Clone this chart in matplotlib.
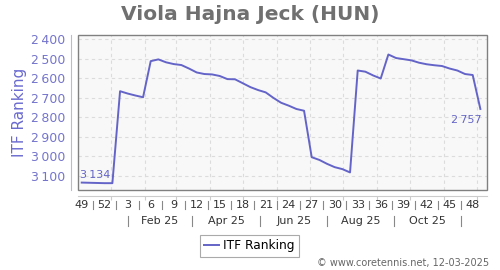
import matplotlib
matplotlib.use("Agg")
import matplotlib.pyplot as plt
import matplotlib.dates as mdates
import matplotlib.transforms as mtransforms
from matplotlib.patches import Rectangle
from matplotlib.ticker import FixedLocator, FuncFormatter, NullFormatter
import pandas as pd

# ---- data ----
start_week_date = "2024-12-05"   # Thursday of ISO week 49, 2024
ranking = [3134, 3135, 3136, 3137, 3137, 2666, 2678, 2688, 2697, 2512,
           2503, 2518, 2527, 2532, 2550, 2570, 2578, 2580, 2588, 2604,
           2605, 2625, 2645, 2660, 2672, 2700, 2725, 2740, 2757, 2766,
           3004, 3018, 3038, 3055, 3065, 3082, 2560, 2566, 2585, 2601,
           2478, 2496, 2502, 2508, 2520, 2528, 2533, 2537, 2550, 2560,
           2578, 2583, 2757]
week_labels = ["49", "52", "3", "6", "9", "12", "15", "18", "21", "24",
               "27", "30", "33", "36", "39", "42", "45", "48"]
month_labels = ["Feb 25", "Apr 25", "Jun 25", "Aug 25", "Oct 25"]
y_ticks = [2400, 2500, 2600, 2700, 2800, 2900, 3000, 3100]
title = "Viola Hajna Jeck (HUN)"
series_name = "ITF Ranking"
footer = "\u00a9 www.coretennis.net, 12-03-2025"

dates = pd.date_range(start_week_date, periods=len(ranking), freq="7D")

LINE = "#6464c8"
TICKBLUE = "#7474cc"

fig = plt.figure(figsize=(5, 2.7), dpi=100)
ax = fig.add_axes([0.156, 0.2963, 0.817, 0.5727])
ax.set_facecolor("#f8f8f8")

line, = ax.plot(dates, ranking, color=LINE, lw=1.4, zorder=3)

x0 = pd.Timestamp("2024-12-05")
ax.set_xlim(x0 - pd.Timedelta(days=3.4), x0 + pd.Timedelta(days=369.6))
ax.set_ylim(3172, 2380)

fmt = lambda v: f"{int(v):,}".replace(",", "\u2009")

# y axis
ax.yaxis.set_major_locator(FixedLocator(y_ticks))
ax.yaxis.set_major_formatter(FuncFormatter(lambda v, p: fmt(v)))
ax.tick_params(axis="y", length=0, pad=4, labelsize=9, labelcolor=TICKBLUE)
ax.set_ylabel(series_name, color="#6a6ad0", fontsize=11, labelpad=3)

# x axis: month-start gridlines + small ticks
month_starts = pd.date_range("2025-01-01", "2025-12-01", freq="MS")
ax.xaxis.set_major_locator(FixedLocator(mdates.date2num(month_starts)))
ax.xaxis.set_major_formatter(NullFormatter())
ax.tick_params(axis="x", which="major", length=3, color="#cccccc", width=0.8)

ax.grid(True, which="major", axis="both", linestyle=(0, (3, 3)), color="#dcdcdc", lw=0.8)

for s in ["top", "right"]:
    ax.spines[s].set_visible(False)
ax.spines["left"].set_position(("outward", 5))
ax.spines["left"].set_color("#b8b8e6")
ax.spines["bottom"].set_position(("outward", 4))
ax.spines["bottom"].set_color("#cccccc")

ax.add_patch(Rectangle((0, 0), 1, 1, transform=ax.transAxes, fill=False,
                       edgecolor="#808080", lw=1.0, clip_on=False, zorder=4))

# week labels and separators
trans = mtransforms.blended_transform_factory(ax.transData, ax.transAxes)
week_dates = dates[::3][:len(week_labels)]
wd = mdates.date2num(week_dates)
for xw, lab in zip(wd, week_labels):
    ax.text(xw, -0.097, lab, transform=trans, ha="center", va="center",
            fontsize=8, color="#333333")
for i in range(len(wd) - 1):
    xm = (wd[i] + wd[i + 1]) / 2
    ax.plot([xm, xm], [-0.07, -0.125], transform=trans, color="#888888", lw=0.8, clip_on=False)

# month labels and separators
month_sep = pd.to_datetime(["2025-01-16", "2025-03-16", "2025-05-17",
                            "2025-07-17", "2025-09-16", "2025-11-16"])
ms = mdates.date2num(month_sep)
for xm in ms:
    ax.plot([xm, xm], [-0.168, -0.233], transform=trans, color="#888888", lw=0.8, clip_on=False)
for i, lab in enumerate(month_labels):
    ax.text((ms[i] + ms[i + 1]) / 2, -0.2, lab, transform=trans, ha="center", va="center",
            fontsize=8, color="#333333")

# end annotations
ax.annotate(fmt(ranking[0]), (mdates.date2num(dates[0]), ranking[0]),
            xytext=(-1, 2), textcoords="offset points", ha="left", va="bottom",
            fontsize=8, color=LINE)
ax.annotate(fmt(ranking[-1]), (mdates.date2num(dates[-1]), ranking[-1]),
            xytext=(1, -4), textcoords="offset points", ha="right", va="top",
            fontsize=8, color=LINE)

fig.text(0.5, 0.948, title, ha="center", va="center", fontsize=14.5,
         fontweight="bold", color="#707070")

leg = fig.legend([line], [series_name], loc="center", bbox_to_anchor=(0.499, 0.089),
                 fontsize=8.7, fancybox=False, edgecolor="#aaaaaa", handlelength=1.2,
                 borderpad=0.35, handletextpad=0.4, framealpha=1)
leg.get_frame().set_linewidth(0.8)

fig.text(0.978, 0.025, footer, ha="right", va="center", fontsize=7, color="#666666")

fig.savefig("out.png", dpi=100)
